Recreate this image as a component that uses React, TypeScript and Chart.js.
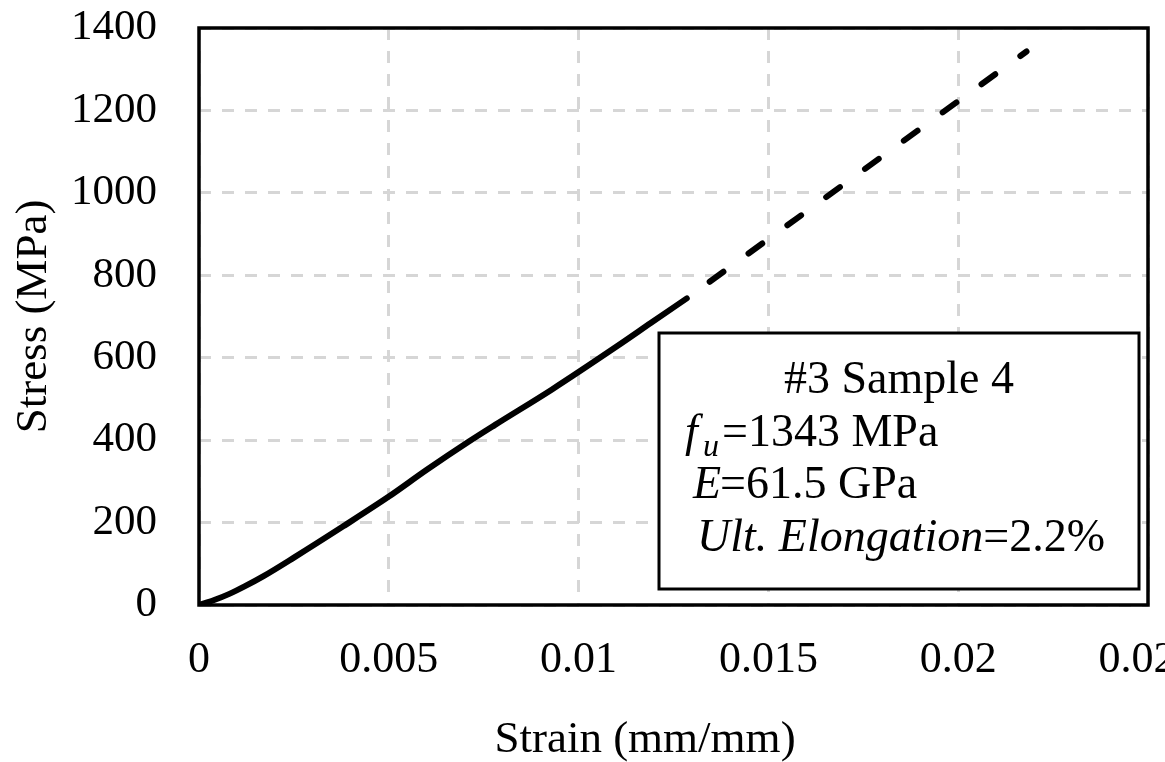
import { useEffect, useRef } from 'react';
import { Chart, registerables } from 'chart.js';

Chart.register(...registerables);

// Measured stress-strain curve (solid)
const strainMeasured = [0, 0.0004, 0.0008, 0.0012, 0.0017, 0.0025, 0.0038, 0.005, 0.006, 0.0071, 0.0078, 0.0093, 0.011, 0.0119, 0.01285];
const stressMeasured = [0, 12, 27, 45, 70, 115, 191, 263, 328, 396, 437, 523, 627, 684, 744];

// Extrapolated part up to failure (dashed)
const strainExtrapolated = [0.01285, 0.0218];
const stressExtrapolated = [744, 1343];

const xTickLabels = ['0', '0.005', '0.01', '0.015', '0.02', '0.025'];
const yTickLabels = ['0', '200', '400', '600', '800', '1000', '1200', '1400'];

const xAxisTitle = 'Strain (mm/mm)';
const yAxisTitle = 'Stress (MPa)';

const boxTitle = '#3 Sample 4';
const fuSymbol = 'f';
const fuSub = 'u';
const fuText = '=1343 MPa';
const eSymbol = 'E';
const eText = '=61.5 GPa';
const elongLabel = 'Ult. Elongation';
const elongText = '=2.2%';

const FONT = "'Liberation Serif', 'Times New Roman', serif";

function labelFor(labels: string[], v: number) {
  const f = labels.find((l) => Math.abs(Number(l) - v) < 1e-9);
  return f === undefined ? '' : f;
}

export default function App() {
  const ref = useRef<HTMLCanvasElement | null>(null);

  useEffect(() => {
    const canvas = ref.current;
    if (!canvas) return;

    const framePlugin = {
      id: 'frame',
      beforeDatasetsDraw(chart: any) {
        const { ctx, chartArea: a } = chart;
        ctx.save();
        ctx.strokeStyle = '#000';
        ctx.lineWidth = 3.5;
        ctx.strokeRect(a.left, a.top, a.right - a.left, a.bottom - a.top);
        ctx.restore();
      },
    };

    const annotationPlugin = {
      id: 'annot',
      afterDatasetsDraw(chart: any) {
        const { ctx } = chart;
        ctx.save();
        // text box
        const bx = 659, by = 333, bw = 480, bh = 256;
        ctx.fillStyle = '#fff';
        ctx.fillRect(bx, by, bw, bh);
        ctx.strokeStyle = '#000';
        ctx.lineWidth = 3;
        ctx.strokeRect(bx, by, bw, bh);

        ctx.fillStyle = '#000';
        ctx.textBaseline = 'alphabetic';
        const reg = `46px ${FONT}`;
        const ita = `italic 46px ${FONT}`;

        ctx.font = reg;
        ctx.textAlign = 'center';
        ctx.fillText(boxTitle, 899, 393);

        ctx.textAlign = 'left';
        ctx.font = ita;
        ctx.fillText(fuSymbol, 685, 446);
        ctx.font = `italic 32px ${FONT}`;
        ctx.fillText(fuSub, 703, 456);
        ctx.font = reg;
        ctx.fillText(fuText, 722, 446);

        ctx.font = ita;
        ctx.fillText(eSymbol, 693, 498);
        const ew = ctx.measureText(eSymbol).width;
        ctx.font = reg;
        ctx.fillText(eText, 693 + ew - 1, 498);

        ctx.font = ita;
        ctx.fillText(elongLabel, 697, 551);
        const lw = ctx.measureText(elongLabel).width;
        ctx.font = reg;
        ctx.fillText(elongText, 697 + lw, 551);

        // x-axis title
        ctx.font = `45px ${FONT}`;
        ctx.textAlign = 'center';
        ctx.fillText(xAxisTitle, 645, 752);
        ctx.restore();
      },
    };

    const chart = new Chart(canvas, {
      type: 'line',
      data: {
        datasets: [
          {
            data: strainMeasured.map((x, i) => ({ x, y: stressMeasured[i] })),
            borderColor: '#000',
            borderWidth: 6,
            pointRadius: 0,
            cubicInterpolationMode: 'monotone',
            fill: false,
            borderCapStyle: 'round',
            borderJoinStyle: 'round',
          },
          {
            data: strainExtrapolated.map((x, i) => ({ x, y: stressExtrapolated[i] })),
            borderColor: '#000',
            borderWidth: 6,
            pointRadius: 0,
            fill: false,
            borderDash: [17, 31],
            borderDashOffset: 19.7,
            borderCapStyle: 'round',
          },
        ],
      },
      options: {
        responsive: false,
        animation: false,
        events: [],
        layout: { padding: { top: 28, right: 60, bottom: 0, left: 0 } },
        plugins: {
          legend: { display: false },
          tooltip: { enabled: false },
          title: { display: false },
        },
        scales: {
          x: {
            type: 'linear',
            min: 0,
            max: 0.025,
            ticks: {
              stepSize: 0.005,
              padding: 0,
              color: '#000',
              maxRotation: 0,
              autoSkip: false,
              font: { family: FONT, size: 44 },
              callback: (v: any) => labelFor(xTickLabels, Number(v)),
            },
            grid: { color: '#d6d6d6', lineWidth: 3, drawTicks: true, tickLength: 29, tickColor: 'rgba(0,0,0,0)' },
            border: { display: false, dash: [12, 11] },
            afterFit: (s: any) => {
              s.height = 157;
            },
          },
          y: {
            type: 'linear',
            min: 0,
            max: 1400,
            ticks: {
              stepSize: 200,
              padding: 0,
              color: '#000',
              font: { family: FONT, size: 43 },
              callback: (v: any) => labelFor(yTickLabels, Number(v)),
            },
            grid: { color: '#d6d6d6', lineWidth: 3, drawTicks: true, tickLength: 42, tickColor: 'rgba(0,0,0,0)' },
            border: { display: false, dash: [12, 11] },
            title: {
              display: true,
              text: yAxisTitle,
              color: '#000',
              font: { family: FONT, size: 45 },
              padding: { top: 7, bottom: 0 },
            },
            afterFit: (s: any) => {
              s.width = 199;
            },
          },
        },
      } as any,
      plugins: [framePlugin, annotationPlugin],
    });

    return () => chart.destroy();
  }, []);

  return (
    <div
      style={{
        position: 'absolute',
        left: 0,
        top: 0,
        width: 1165,
        height: 762,
        overflow: 'hidden',
        background: '#fff',
      }}
    >
      <canvas ref={ref} width={1208} height={762} style={{ width: 1208, height: 762, display: 'block' }} />
    </div>
  );
}
